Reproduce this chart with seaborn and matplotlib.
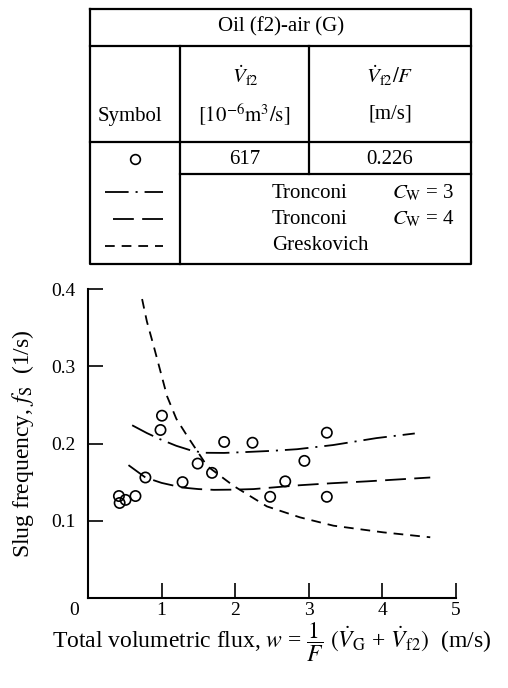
import matplotlib
matplotlib.use("Agg")
import matplotlib.pyplot as plt
import seaborn as sns
import pandas as pd

# ---- data ----
meas_w = [0.42, 0.43, 0.51, 0.645, 0.78, 1.005, 0.985, 1.285, 1.49, 1.685, 1.85, 2.235, 2.475, 2.68, 2.94, 3.245, 3.245]
meas_f = [0.132, 0.123, 0.127, 0.132, 0.156, 0.236, 0.2175, 0.150, 0.174, 0.162, 0.202, 0.201, 0.131, 0.151, 0.1775, 0.214, 0.131]

tr3_w = [0.60, 0.80, 0.98, 1.20, 1.39, 1.57, 1.85, 2.16, 2.50, 2.84, 3.33, 3.92, 4.44]
tr3_f = [0.2236, 0.2135, 0.2055, 0.197, 0.1913, 0.188, 0.1878, 0.189, 0.1905, 0.1926, 0.198, 0.207, 0.213]

tr4_w = [0.55, 0.78, 1.00, 1.28, 1.50, 1.71, 2.00, 2.25, 2.88, 3.30, 3.79, 4.65]
tr4_f = [0.172, 0.156, 0.149, 0.143, 0.141, 0.140, 0.1403, 0.141, 0.146, 0.1485, 0.151, 0.156]

gr_w = [0.735, 0.80, 0.893, 1.075, 1.20, 1.346, 1.617, 1.98, 2.43, 2.88, 3.335, 4.01, 4.65]
gr_f = [0.387, 0.358, 0.326, 0.261, 0.232, 0.210, 0.171, 0.145, 0.1186, 0.1044, 0.0936, 0.085, 0.0786]

x_ticks = [1, 2, 3, 4, 5]
y_ticks = [0.1, 0.2, 0.3, 0.4]
y_ticklabels = ["0.1", "0.2", "0.3", "0.4"]

meas = pd.DataFrame({"w": meas_w, "f": meas_f})
tr3 = pd.DataFrame({"w": tr3_w, "f": tr3_f})
tr4 = pd.DataFrame({"w": tr4_w, "f": tr4_f})
gr = pd.DataFrame({"w": gr_w, "f": gr_f})

sns.set_style("white")
plt.rcParams["font.family"] = ["Liberation Serif", "DejaVu Serif"]
plt.rcParams["mathtext.fontset"] = "stix"
plt.rcParams["lines.scale_dashes"] = False
plt.rcParams["text.color"] = "black"
plt.rcParams["axes.labelcolor"] = "black"

FS = 14
TFS = 15
LW = 1.3
DASHDOT = (0, (17, 5, 1.5, 5))
LONGDASH = (0, (15, 6))
SHORTDASH = (0, (7, 5))

fig = plt.figure(figsize=(5.08, 6.88), dpi=100)
W, H = 508, 688
ax = fig.add_axes([88 / W, 1 - 598 / H, (456 - 88) / W, (598 - 289) / H])

sns.lineplot(data=tr3, x="w", y="f", ax=ax, color="black", lw=LW, linestyle=DASHDOT, sort=False)
sns.lineplot(data=tr4, x="w", y="f", ax=ax, color="black", lw=LW, linestyle=LONGDASH, sort=False)
sns.lineplot(data=gr, x="w", y="f", ax=ax, color="black", lw=LW, linestyle=SHORTDASH, sort=False)
sns.scatterplot(data=meas, x="w", y="f", ax=ax, marker="o", s=55,
                facecolor="none", edgecolor="black", linewidth=1.2, zorder=5)

ax.set_xlim(0, 5)
ax.set_ylim(0, 0.4)
ax.set_xticks(x_ticks)
ax.set_xticklabels([str(t) for t in x_ticks])
ax.set_yticks(y_ticks)
ax.set_yticklabels(y_ticklabels)
for s in ["top", "right"]:
    ax.spines[s].set_visible(False)
for s in ["left", "bottom"]:
    ax.spines[s].set_linewidth(1.5)
    ax.spines[s].set_color("black")
ax.tick_params(axis="both", direction="in", length=11, width=1.2, colors="black",
               labelsize=FS, bottom=True, left=True, top=False, right=False)
ax.tick_params(axis="x", pad=3)
ax.tick_params(axis="y", pad=9)
ax.annotate("0", xy=(0, 0), xycoords="data", xytext=(-10, -3), textcoords="offset points",
            ha="center", va="top", fontsize=FS, color="black", annotation_clip=False)

ax.set_xlabel(r"Total volumetric flux, $w$ = $\dfrac{1}{F}$ $(\dot{V}_\mathrm{G}$ + $\dot{V}_\mathrm{f2})$  (m/s)",
              fontsize=17, color="black")
ax.xaxis.set_label_coords(0.5, -0.074)
ax.set_ylabel(r"Slug frequency, $f_\mathrm{S}$  (1/s)", fontsize=17, color="black")
ax.yaxis.set_label_coords(-0.14, 0.5)

# ---- table drawn in pixel coordinates ----
tax = fig.add_axes([0, 0, 1, 1], zorder=-1)
tax.set_xlim(0, W)
tax.set_ylim(H, 0)
tax.axis("off")
tk = dict(color="black", lw=1.6, solid_capstyle="projecting")
L, R, T, B = 90, 471, 9, 264
tax.plot([L, R, R, L, L], [T, T, B, B, T], **tk)
tax.plot([L, R], [46, 46], **tk)
tax.plot([L, R], [142, 142], **tk)
tax.plot([180, R], [174, 174], **tk)
tax.plot([180, 180], [46, B], **tk)
tax.plot([309, 309], [46, 174], **tk)

tx = dict(fontsize=TFS, ha="center", va="center", color="black")
tax.text(281, 27, "Oil (f2)-air (G)", **tx)
tax.text(130, 117, "Symbol", **tx)
tax.text(245, 76, r"$\dot{V}_{\mathrm{f2}}$", **tx)
tax.text(244, 114, r"$[10^{-6}\mathrm{m}^3/\mathrm{s}]$", **tx)
tax.text(390, 76, r"$\dot{V}_{\mathrm{f2}}/F$", **tx)
tax.text(390, 114, "[m/s]", **tx)
tax.text(245, 159, "617", **tx)
tax.text(390, 159, "0.226", **tx)
tax.plot([135], [159], marker="o", ms=7, mfc="none", mec="black", mew=1.2)

ltx = dict(fontsize=TFS, ha="left", va="center", color="black")
tax.text(272, 193, "Tronconi", **ltx)
tax.text(272, 219, "Tronconi", **ltx)
tax.text(272, 245, "Greskovich", **ltx)
tax.text(392, 193, r"$C_\mathrm{W}$ = 3", **ltx)
tax.text(392, 219, r"$C_\mathrm{W}$ = 4", **ltx)
tax.plot([105, 163], [192, 192], color="black", lw=LW, linestyle=DASHDOT)
tax.plot([113, 163], [219, 219], color="black", lw=LW, linestyle=LONGDASH)
tax.plot([105, 163], [246, 246], color="black", lw=LW, linestyle=SHORTDASH)

fig.savefig("out.png", dpi=100)
